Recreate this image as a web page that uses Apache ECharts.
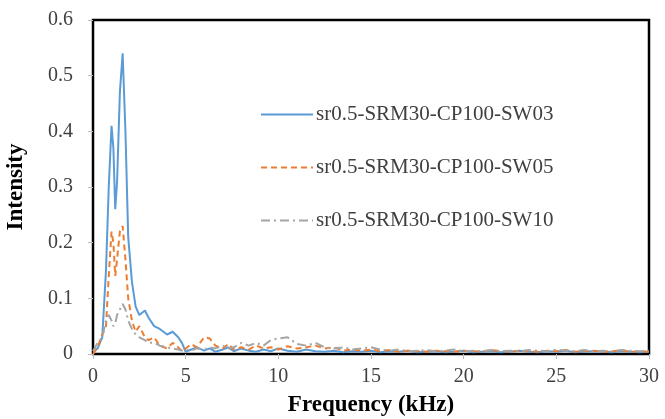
<!DOCTYPE html>
<html>
<head>
<meta charset="utf-8">
<script src="https://cdn.jsdelivr.net/npm/echarts@6/dist/echarts.min.js"></script>
<style>
  html, body { margin: 0; padding: 0; background: #fff; }
  #chart { width: 665px; height: 419px; }
</style>
</head>
<body>
<div id="chart"></div>
<script>
// frequency (kHz)
const freq = [0, 0.25, 0.5, 0.7, 0.85, 1.0, 1.1, 1.2, 1.3, 1.45, 1.6, 1.75, 1.9, 2.1, 2.3, 2.5, 2.8, 3.0, 3.3, 3.6,
  4.0, 4.3, 4.6, 4.8, 5.0, 5.3, 5.6, 6.0, 6.3, 6.6, 7.0, 7.3, 7.6, 8.0, 8.4, 8.8, 9.2, 9.6, 10.0, 10.5,
  11.0, 11.5, 12.0, 12.5, 13.0, 13.5, 14.0, 14.5, 15.0, 15.5, 16, 16.5, 17, 17.5, 18, 18.5, 19, 19.5, 20,
  20.5, 21, 21.5, 22, 22.5, 23, 23.5, 24, 24.5, 25, 25.5, 26, 26.5, 27, 27.5, 28, 28.5, 29, 29.5, 30]

const sw03 = [0.005, 0.01, 0.03, 0.15, 0.30, 0.41, 0.37, 0.26, 0.31, 0.47, 0.54, 0.40, 0.21, 0.13, 0.085, 0.07, 0.078, 0.065, 0.05, 0.045,
  0.035, 0.04, 0.03, 0.02, 0.004, 0.008, 0.012, 0.006, 0.01, 0.004, 0.008, 0.012, 0.005, 0.01, 0.006, 0.004, 0.008, 0.005, 0.01, 0.006,
  0.004, 0.008, 0.005, 0.004, 0.006, 0.003, 0.005, 0.004, 0.006, 0.003, 0.005, 0.004, 0.006, 0.003, 0.004, 0.005, 0.003, 0.004, 0.006,
  0.003, 0.004, 0.005, 0.003, 0.004, 0.006, 0.004, 0.003, 0.005, 0.004, 0.006, 0.003, 0.004, 0.005, 0.004, 0.003, 0.005, 0.004, 0.003, 0.004]

const sw05 = [0.0, 0.012, 0.035, 0.05, 0.14, 0.22, 0.20, 0.14, 0.17, 0.22, 0.23, 0.17, 0.10, 0.06, 0.04, 0.05, 0.03, 0.025, 0.03, 0.015,
  0.01, 0.02, 0.012, 0.005, 0.01, 0.018, 0.012, 0.03, 0.028, 0.015, 0.01, 0.018, 0.008, 0.012, 0.008, 0.015, 0.01, 0.012, 0.008, 0.014,
  0.01, 0.012, 0.015, 0.01, 0.012, 0.006, 0.008, 0.006, 0.008, 0.005, 0.007, 0.004, 0.006, 0.005, 0.004, 0.006, 0.005, 0.004, 0.006,
  0.005, 0.004, 0.007, 0.005, 0.004, 0.006, 0.005, 0.004, 0.006, 0.005, 0.007, 0.004, 0.005, 0.006, 0.004, 0.005, 0.006, 0.004, 0.005, 0.004]

const sw10 = [0.005, 0.02, 0.03, 0.06, 0.07, 0.06, 0.05, 0.055, 0.07, 0.08, 0.09, 0.08, 0.06, 0.045, 0.035, 0.03, 0.025, 0.02, 0.02, 0.015,
  0.012, 0.01, 0.008, 0.006, 0.008, 0.006, 0.01, 0.008, 0.012, 0.01, 0.015, 0.01, 0.012, 0.02, 0.015, 0.02, 0.015, 0.025, 0.028, 0.03,
  0.018, 0.015, 0.02, 0.012, 0.01, 0.012, 0.008, 0.01, 0.012, 0.008, 0.006, 0.008, 0.005, 0.006, 0.007, 0.005, 0.006, 0.008, 0.005,
  0.006, 0.005, 0.007, 0.005, 0.006, 0.005, 0.007, 0.006, 0.005, 0.008, 0.006, 0.005, 0.007, 0.005, 0.006, 0.005, 0.007, 0.006, 0.005, 0.006]

const names = ['sr0.5-SRM30-CP100-SW03', 'sr0.5-SRM30-CP100-SW05', 'sr0.5-SRM30-CP100-SW10']
const yTicks = [0, 0.1, 0.2, 0.3, 0.4, 0.5, 0.6]
const xTicks = [0, 5, 10, 15, 20, 25, 30]

const font = '"Liberation Serif", "Times New Roman", serif'

function pairs(ys) {
  return freq.map((f, i) => [f, ys[i]])
}

function line(name, ys, color, type) {
  return {
    name: name,
    type: 'line',
    data: pairs(ys),
    symbol: 'none',
    lineStyle: { color: color, width: 2, type: type },
    itemStyle: { color: color }
  }
}

const myChart = echarts.init(document.getElementById('chart'))
myChart.setOption({
  animation: false,
  backgroundColor: '#fff',
  grid: {
    left: 93, right: 16, top: 20, bottom: 65,
    containLabel: false,
    outerBoundsMode: 'none',
    show: true, borderColor: '#000', borderWidth: 2.5, backgroundColor: 'transparent'
  },
  legend: {
    orient: 'vertical',
    left: 255,
    top: 99,
    itemGap: 32,
    itemWidth: 52,
    itemHeight: 14,
    itemStyle: { opacity: 0 },
    textStyle: { fontFamily: font, fontSize: 21, color: '#404040', padding: [0, 0, 0, -2] },
    data: names
  },
  xAxis: {
    type: 'value',
    min: xTicks[0],
    max: xTicks[xTicks.length - 1],
    interval: 5,
    name: 'Frequency (kHz)',
    nameLocation: 'middle',
    nameGap: 40,
    nameTextStyle: { fontFamily: font, fontSize: 23, fontWeight: 'bold', color: '#000' },
    axisLine: { show: false },
    axisTick: { show: true, length: 5, lineStyle: { color: '#bbb' } },
    axisLabel: { fontFamily: font, fontSize: 20, color: '#404040', margin: 13 },
    splitLine: { show: false }
  },
  yAxis: {
    type: 'value',
    min: yTicks[0],
    max: yTicks[yTicks.length - 1],
    interval: 0.1,
    name: 'Intensity',
    nameLocation: 'middle',
    nameGap: 65,
    nameTextStyle: { fontFamily: font, fontSize: 23, fontWeight: 'bold', color: '#000' },
    axisLine: { show: false },
    axisTick: { show: true, length: 5, lineStyle: { color: '#bbb' } },
    axisLabel: { fontFamily: font, fontSize: 20, color: '#404040', margin: 20 },
    splitLine: { show: false }
  },
  series: [
    line(names[0], sw03, '#5B9BD5', 'solid'),
    line(names[1], sw05, '#ED7D31', [6, 4]),
    line(names[2], sw10, '#A5A5A5', [9, 4, 2, 4])
  ]
})
</script>
</body>
</html>
